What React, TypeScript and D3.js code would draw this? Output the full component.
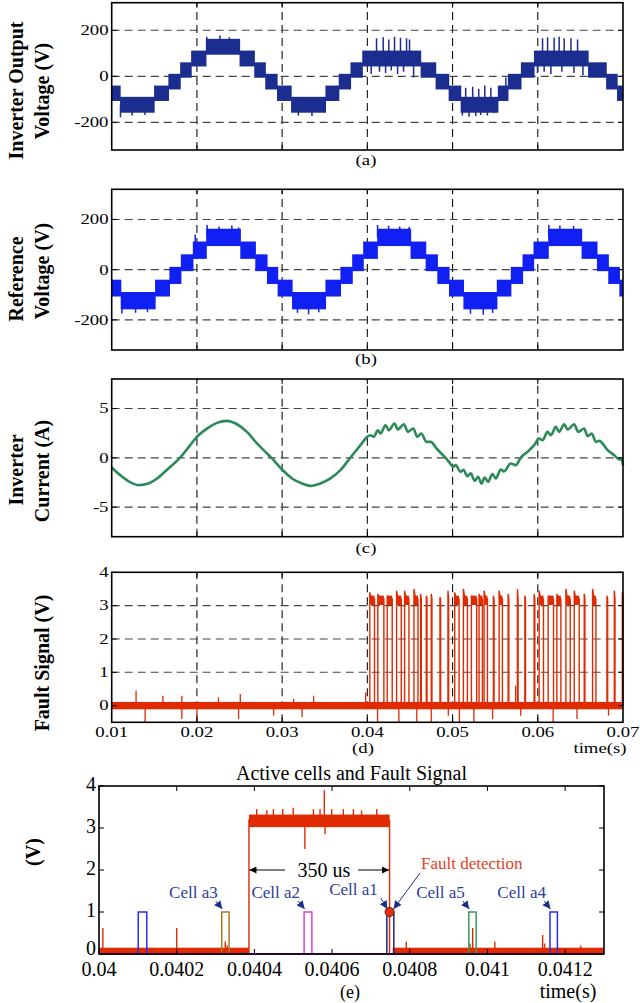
import React from 'react';
import * as d3 from 'd3';

const FONT = '"Liberation Serif","Times New Roman",Times,serif';

// ---------------- DATA ----------------
const T_TICKS = [0.01, 0.02, 0.03, 0.04, 0.05, 0.06, 0.07];
const T_TICK_LABELS = ['0.01', '0.02', '0.03', '0.04', '0.05', '0.06', '0.07'];
const T_GRID = [0.02, 0.03, 0.04, 0.05, 0.06];
const V_TICKS = [-200, 0, 200];
const I_TICKS = [-5, 0, 5];
const F_TICKS = [0, 1, 2, 3, 4];

// staircase level bands (V)
const LEVEL_LOW = [-158, -107, -57, -6, 43, 94];
const LEVEL_HIGH = [-89, -40, 11, 61, 112, 163];

// (a) inverter output voltage: segment start times + level index
const VOUT_T = [0.01, 0.01098, 0.01497, 0.01665, 0.01803, 0.01932, 0.02105, 0.025, 0.02673, 0.02802, 0.0294, 0.03105, 0.03508, 0.03664, 0.03802, 0.0394, 0.04625, 0.04801, 0.04954, 0.05095, 0.05531, 0.05649, 0.05802, 0.05955, 0.0659, 0.06802, 0.0693];
const VOUT_LEVEL = [1, 0, 1, 2, 3, 4, 5, 4, 3, 2, 1, 0, 1, 2, 3, 4, 3, 2, 1, 0, 1, 2, 3, 4, 3, 2, 1];
const VOUT_SPIKE_T = [0.01103, 0.0124, 0.0139, 0.02115, 0.0227, 0.0238, 0.0319, 0.0335,
  0.04045, 0.04108, 0.04143, 0.04186, 0.04214, 0.04252, 0.0428, 0.04319, 0.04355, 0.04389, 0.04425, 0.0446, 0.04495, 0.04543,
  0.05115, 0.05154, 0.05193, 0.05236, 0.05272, 0.05307, 0.0533, 0.05378, 0.05409, 0.05449, 0.05487, 0.05625,
  0.05997, 0.06056, 0.06075, 0.06115, 0.06154, 0.06192, 0.06251, 0.06283, 0.0631, 0.06389, 0.06424, 0.06467, 0.0653];
const VOUT_SPIKE_V = [-178, -170, -168, 172, 178, 170, -170, -172,
  10, 165, 20, 170, 15, 160, 25, 172, 10, 168, 20, 165, 160, -5,
  -170, -50, -175, -45, -172, -55, -168, -40, -170, -50, -160, -5,
  15, 165, 20, 170, 10, 168, 172, 20, 165, 165, 15, 160, 5];

// (b) reference voltage
const VREF_T = [0.01, 0.01106, 0.01509, 0.01677, 0.01811, 0.01952, 0.02109, 0.02509, 0.02685, 0.02822, 0.02947, 0.03116, 0.03508, 0.03684, 0.03822, 0.03951, 0.04116, 0.04507, 0.04684, 0.04821, 0.04958, 0.05127, 0.05519, 0.05683, 0.05821, 0.0595, 0.06122, 0.06514, 0.06694, 0.06827, 0.06957];
const VREF_LEVEL = [1, 0, 1, 2, 3, 4, 5, 4, 3, 2, 1, 0, 1, 2, 3, 4, 5, 4, 3, 2, 1, 0, 1, 2, 3, 4, 5, 4, 3, 2, 1];
const VREF_SPIKE_T = [0.0112, 0.0128, 0.0142, 0.0198, 0.0212, 0.0226, 0.0241, 0.0249, 0.0263, 0.0318, 0.0331, 0.0343, 0.0412, 0.0425, 0.0438, 0.0449, 0.0521, 0.0536, 0.0547, 0.0613, 0.0626, 0.0642, 0.0654];
const VREF_SPIKE_V = [-175, -172, -170, 140, 178, 172, 176, 168, 100, -172, -178, -170, 178, 175, 172, 170, -176, -180, -172, 178, 176, 174, 110];

// (c) inverter current
const CUR_T = [0.01, 0.01098, 0.01195, 0.01313, 0.0143, 0.01548, 0.01665, 0.01803, 0.01921, 0.01999, 0.02117, 0.02235, 0.02352, 0.0247, 0.02587, 0.02705, 0.02822, 0.02881, 0.02999, 0.03116, 0.03234, 0.03332, 0.03449, 0.03567, 0.03684, 0.03802, 0.03919, 0.03998,
  0.04037, 0.04076, 0.04123, 0.04155, 0.04213, 0.04252, 0.04319, 0.04358, 0.04429, 0.04476, 0.04539, 0.04586, 0.04633, 0.04695, 0.04742, 0.04821, 0.04899, 0.04958, 0.05009, 0.05036, 0.05095, 0.05127, 0.05174, 0.05213, 0.0526, 0.05299, 0.05339, 0.05377, 0.05416, 0.05468, 0.05507, 0.05566, 0.05604, 0.05683, 0.05742, 0.05801, 0.0588, 0.05957, 0.06016, 0.06056, 0.06115, 0.06154, 0.06212, 0.06251, 0.0631, 0.0635, 0.06427, 0.06474, 0.06545, 0.06585, 0.06632, 0.06683, 0.06721, 0.0682, 0.06898, 0.06957, 0.06977, 0.07];
const CUR_I = [-0.97, -1.75, -2.36, -2.77, -2.6, -1.99, -1.08, 0.03, 1.29, 2.13, 2.97, 3.55, 3.75, 3.41, 2.63, 1.46, 0.45, -0.06, -1.18, -2.09, -2.6, -2.84, -2.6, -2.09, -1.25, 0.04, 1.29, 2.13,
  2.3, 2.13, 2.8, 2.47, 3.31, 2.8, 3.48, 2.87, 3.41, 2.64, 2.98, 2.13, 2.47, 1.62, 1.62, 0.85, 0.17, -0.41, -0.91, -0.74, -1.42, -1.2, -1.86, -1.58, -2.33, -1.92, -2.6, -1.99, -2.43, -1.65, -2.09, -1.18, -1.38, -0.57, -0.74, 0.04, 0.61, 1.29, 1.96, 1.79, 2.64, 2.3, 3.14, 2.64, 3.41, 2.87, 3.41, 2.64, 2.98, 2.2, 2.47, 1.62, 1.72, 0.78, 0.27, -0.17, -0.06, -0.74];

// (d) fault signal pulses
const PULSE_START = [0.04029, 0.04123, 0.04233, 0.04343, 0.04437, 0.04547, 0.04625, 0.04692, 0.0475, 0.04852, 0.04946, 0.05025, 0.05127, 0.05221, 0.05311, 0.0537, 0.05479, 0.05546, 0.05652, 0.05761, 0.05848, 0.05957, 0.06016, 0.06122, 0.06224, 0.0633, 0.06428, 0.06545, 0.06643, 0.06812, 0.06898, 0.06992];
const PULSE_END = [0.04084, 0.04194, 0.04292, 0.04398, 0.04488, 0.04594, 0.04633, 0.047, 0.04758, 0.0486, 0.04954, 0.05076, 0.05174, 0.05283, 0.0535, 0.05409, 0.05487, 0.05585, 0.0566, 0.05769, 0.05856, 0.05965, 0.06067, 0.06185, 0.06271, 0.06381, 0.06486, 0.06553, 0.06682, 0.0682, 0.06906, 0.07];
const PULSE_PEAK = [3.4, 3.35, 3.3, 3.45, 3.45, 3.5, 3.35, 3.3, 3.35, 3.25, 3.45, 3.4, 3.5, 3.3, 3.35, 3.45, 3.3, 3.45, 3.35, 3.5, 3.3, 3.35, 3.45, 3.3, 3.35, 3.5, 3.45, 3.35, 3.5, 3.3, 3.45, 3.4];
const D_SPIKE_T = [0.01286, 0.01392, 0.016, 0.01823, 0.01823, 0.02, 0.02253, 0.02489, 0.02509, 0.029, 0.03135, 0.03234, 0.0337, 0.0398, 0.0412, 0.0437, 0.0458, 0.0475, 0.0495, 0.0508, 0.0525, 0.0547, 0.0574, 0.058, 0.0618, 0.0646, 0.0683];
const D_SPIKE_V = [0.45, -0.5, 0.3, 0.3, -0.4, -0.5, 0.25, -0.4, 0.35, -0.3, 0.2, -0.35, 0.3, 0.4, -0.5, -0.5, -0.5, -0.5, -0.3, -0.5, -0.5, -0.4, 0.6, -0.3, -0.5, -0.4, -0.3];

// (e) zoomed view
const E_X_TICKS = [0.04, 0.0402, 0.0404, 0.0406, 0.0408, 0.041, 0.0412];
const E_X_LABELS = ['0.04', '0.0402', '0.0404', '0.0406', '0.0408', '0.041', '0.0412'];
const E_FAULT_RISE = 0.040386;
const E_FAULT_FALL = 0.040748;
const E_FAULT_HIGH = [3.02, 3.32];
const E_HIGH_SPIKE_T = [0.040406, 0.040432, 0.040449, 0.040473, 0.0405, 0.04053, 0.040552, 0.040569, 0.04058, 0.040582, 0.040599, 0.040629, 0.040655, 0.040676, 0.040715];
const E_HIGH_SPIKE_V = [3.45, 3.42, 3.45, 3.45, 3.48, 2.5, 3.45, 3.45, 3.9, 2.85, 3.45, 3.45, 3.45, 3.42, 3.45];
const E_BASE_SPIKE_T = [0.04001, 0.0402, 0.040325, 0.04033, 0.040791, 0.040955, 0.040962, 0.041019, 0.041142, 0.041147, 0.04124];
const E_BASE_SPIKE_V = [0.62, 0.62, 0.3, 0.2, 0.3, 0.25, 0.62, 0.3, 0.45, 0.25, 0.2];
const CELL_NAMES = ['', 'Cell a3', 'Cell a2', 'Cell a1', 'Cell a5', 'Cell a4'];
const CELL_START = [0.040101, 0.040316, 0.040528, 0.040741, 0.040952, 0.041161];
const CELL_END = [0.040123, 0.040335, 0.040548, 0.040759, 0.040971, 0.04118];
const CELL_LEVEL = 1;
const DETECT_T = 0.040748;
const DETECT_V = 1.0;

// ---------------- STYLE ----------------
const CELL_COLORS = ['#2a2aff', '#b07a1c', '#e040e0', '#20208a', '#3a9a60', '#2a2aff'];
const RED = '#e02a00';

type S = d3.ScaleLinear<number, number>;

function STxt({ x, y, anchor = 'middle', size = 15, sx = 1.25, children, fill = '#000', weight = 'normal' }: any) {
  return (
    <text transform={`translate(${x},${y}) scale(${sx},1)`} textAnchor={anchor} dominantBaseline="central"
      fontSize={size} fontFamily={FONT} fill={fill} fontWeight={weight}>{children}</text>
  );
}

function YLabel({ x, y, text, size = 20 }: any) {
  return (
    <text transform={`translate(${x},${y}) rotate(-90)`} textAnchor="middle" dominantBaseline="central"
      fontWeight="bold" fontSize={size} fontFamily={FONT}>{text}</text>
  );
}

function Grid({ xs, ys, xg, yg }: { xs: S; ys: S; xg: number[]; yg: number[] }) {
  const [x0, x1] = xs.range();
  const [y0, y1] = ys.range();
  return (
    <g strokeWidth={1.1} fill="none">
      {xg.map((t, i) => <line key={'v' + i} x1={xs(t)} x2={xs(t)} y1={y0} y2={y1} stroke="#111" strokeDasharray="8,5" />)}
      {yg.map((v, i) => <line key={'h' + i} x1={x0} x2={x1} y1={ys(v)} y2={ys(v)} stroke="#444" strokeDasharray="8,5" />)}
    </g>
  );
}

function Box({ xs, ys, xt, yt }: { xs: S; ys: S; xt: number[]; yt: number[] }) {
  const [x0, x1] = xs.range();
  const [y0, y1] = ys.range();
  const L = 5;
  return (
    <g stroke="#000" strokeWidth={1}>
      {xt.map((t, i) => (
        <g key={'x' + i}>
          <line x1={xs(t)} x2={xs(t)} y1={y0} y2={y0 - L} />
          <line x1={xs(t)} x2={xs(t)} y1={y1} y2={y1 + L} />
        </g>
      ))}
      {yt.map((v, i) => (
        <g key={'y' + i}>
          <line x1={x0} x2={x0 + L} y1={ys(v)} y2={ys(v)} />
          <line x1={x1} x2={x1 - L} y1={ys(v)} y2={ys(v)} />
        </g>
      ))}
      <rect x={x0} y={y1} width={x1 - x0} height={y0 - y1} fill="none" strokeWidth={1.6} />
    </g>
  );
}

function Stair({ xs, ys, T, L, end, color, spT, spV, id }: any) {
  const [x0, x1] = xs.range();
  const [y0, y1] = ys.range();
  return (
    <g clipPath={`url(#${id})`}>
      <clipPath id={id}><rect x={x0} y={y1} width={x1 - x0} height={y0 - y1} /></clipPath>
      <g fill={color}>
        {T.map((t: number, i: number) => {
          const t1 = i < T.length - 1 ? T[i + 1] : end;
          const lv = L[i];
          return <rect key={i} x={xs(t)} width={xs(t1) - xs(t) + 0.6} y={ys(LEVEL_HIGH[lv])}
            height={ys(LEVEL_LOW[lv]) - ys(LEVEL_HIGH[lv])} />;
        })}
      </g>
      <g stroke={color} strokeWidth={1.5}>
        {spT.map((t: number, i: number) => {
          const k = Math.max(0, d3.bisectRight(T, t) - 1);
          const lv = L[k];
          const mid = (LEVEL_LOW[lv] + LEVEL_HIGH[lv]) / 2;
          return <line key={i} x1={xs(t)} x2={xs(t)} y1={ys(mid)} y2={ys(spV[i])} />;
        })}
      </g>
    </g>
  );
}

export default function App() {
  const xT = d3.scaleLinear().domain([0.01, 0.07]).range([111.7, 623]);
  const yA = d3.scaleLinear().domain([-320, 320]).range([150, 2.7]);
  const yB = d3.scaleLinear().domain([-320, 320]).range([350, 189.3]);
  const yC = d3.scaleLinear().domain([-8, 8]).range([536.7, 379]);
  const yD = d3.scaleLinear().domain([-0.5, 4]).range([722.3, 572.3]);
  const xE = d3.scaleLinear().domain([0.04, 0.0413]).range([99, 604]);
  const yE = d3.scaleLinear().domain([0, 4]).range([954, 786]);

  const curLine = d3.line<number>().x((_, i) => xT(CUR_T[i])).y((d) => yC(d)).curve(d3.curveMonotoneX);

  const pulsePaths = PULSE_START.map((s, i) => {
    const e = PULSE_END[i];
    const xa = xT(s), xb = Math.min(xT(e), xT(0.07));
    return `M${xa},${yD(0)}V${yD(PULSE_PEAK[i])}L${Math.min(xa + 1.5, xb)},${yD(3.2)}H${xb}V${yD(0)}`;
  });

  const labelFs = 15;

  return (
    <svg width={640} height={1003} style={{ position: 'absolute', left: 0, top: 0, background: '#fff' }} fontFamily={FONT}>
      <defs>
        <marker id="ahB" viewBox="0 0 10 10" refX="10" refY="5" markerWidth="8" markerHeight="8" markerUnits="userSpaceOnUse" orient="auto">
          <path d="M0,0L10,5L0,10z" fill="#1a2f8a" />
        </marker>
        <marker id="ahK" viewBox="0 0 10 10" refX="10" refY="5" markerWidth="8" markerHeight="7" markerUnits="userSpaceOnUse" orient="auto">
          <path d="M0,0L10,5L0,10z" fill="#000" />
        </marker>
      </defs>

      {/* ---------- (a) ---------- */}
      <Grid xs={xT} ys={yA} xg={T_GRID} yg={V_TICKS} />
      <Stair xs={xT} ys={yA} T={VOUT_T} L={VOUT_LEVEL} end={0.07} color="#1b2d8f" spT={VOUT_SPIKE_T} spV={VOUT_SPIKE_V} id="clipA" />
      <Box xs={xT} ys={yA} xt={T_GRID} yt={V_TICKS} />
      {V_TICKS.map((v, i) => <STxt key={i} x={108.5} y={yA(v)} anchor="end" size={labelFs}>{String(v)}</STxt>)}
      <YLabel x={16} y={90.5} text="Inverter Output" />
      <YLabel x={41.7} y={91} text="Voltage (V)" />
      <STxt x={366} y={160} size={labelFs}>(a)</STxt>

      {/* ---------- (b) ---------- */}
      <Grid xs={xT} ys={yB} xg={T_GRID} yg={V_TICKS} />
      <Stair xs={xT} ys={yB} T={VREF_T} L={VREF_LEVEL} end={0.07} color="#1020f2" spT={VREF_SPIKE_T} spV={VREF_SPIKE_V} id="clipB" />
      <Box xs={xT} ys={yB} xt={T_GRID} yt={V_TICKS} />
      {V_TICKS.map((v, i) => <STxt key={i} x={108.5} y={yB(v)} anchor="end" size={labelFs}>{String(v)}</STxt>)}
      <YLabel x={16} y={279} text="Reference" />
      <YLabel x={41.7} y={271} text="Voltage (V)" />
      <STxt x={366} y={359} size={labelFs}>(b)</STxt>

      {/* ---------- (c) ---------- */}
      <Grid xs={xT} ys={yC} xg={T_GRID} yg={I_TICKS} />
      <path d={curLine(CUR_I) || ''} fill="none" stroke="#2b8a57" strokeWidth={2.6} strokeLinejoin="round" />
      <Box xs={xT} ys={yC} xt={T_GRID} yt={I_TICKS} />
      {I_TICKS.map((v, i) => <STxt key={i} x={108.5} y={yC(v)} anchor="end" size={labelFs}>{String(v)}</STxt>)}
      <YLabel x={16} y={470} text="Inverter" />
      <YLabel x={41.7} y={471} text="Current (A)" />
      <STxt x={366} y={548} size={labelFs}>(c)</STxt>

      {/* ---------- (d) ---------- */}
      <Grid xs={xT} ys={yD} xg={T_GRID} yg={[0, 1, 2, 3]} />
      <g>
        <rect x={xT(0.01)} width={xT(0.07) - xT(0.01)} y={yD(0.11)} height={yD(-0.11) - yD(0.11)} fill={RED} />
        <g stroke={RED} strokeWidth={1.3}>
          {D_SPIKE_T.map((t, i) => <line key={i} x1={xT(t)} x2={xT(t)} y1={yD(0)} y2={yD(Math.max(-0.5, D_SPIKE_V[i]))} />)}
        </g>
        <g fill="none" stroke={RED} strokeWidth={1.4}>
          {pulsePaths.map((p, i) => <path key={i} d={p} />)}
        </g>
        <g fill={RED}>
          {PULSE_START.map((s, i) => {
            const e = Math.min(PULSE_END[i], 0.07);
            if (e - s < 0.0002) return null;
            return <rect key={i} x={xT(s)} width={xT(e) - xT(s)} y={yD(3.3)} height={yD(3.02) - yD(3.3)} />;
          })}
        </g>
      </g>
      <Box xs={xT} ys={yD} xt={T_GRID} yt={F_TICKS} />
      {F_TICKS.map((v, i) => <STxt key={i} x={108.5} y={yD(v)} anchor="end" size={labelFs}>{String(v)}</STxt>)}
      {T_TICKS.map((t, i) => <STxt key={i} x={xT(t)} y={732} size={labelFs}>{T_TICK_LABELS[i]}</STxt>)}
      <YLabel x={41.7} y={663} text="Fault Signal (V)" />
      <STxt x={363} y={748} size={labelFs}>(d)</STxt>
      <STxt x={600} y={748} size={labelFs}>time(s)</STxt>

      {/* ---------- (e) ---------- */}
      <text x={351.5} y={773} textAnchor="middle" dominantBaseline="central" fontSize={20} fontFamily={FONT}>Active cells and Fault Signal</text>
      <g>
        {/* fault signal */}
        <g fill={RED}>
          <rect x={xE(0.04)} width={xE(E_FAULT_RISE) - xE(0.04)} y={yE(0.15)} height={yE(0) - yE(0.15)} />
          <rect x={xE(E_FAULT_FALL + 0.000008)} width={xE(0.0413) - xE(E_FAULT_FALL + 0.000008)} y={yE(0.15)} height={yE(0) - yE(0.15)} />
          <rect x={xE(E_FAULT_RISE)} width={xE(E_FAULT_FALL) - xE(E_FAULT_RISE)} y={yE(E_FAULT_HIGH[1])} height={yE(E_FAULT_HIGH[0]) - yE(E_FAULT_HIGH[1])} />
        </g>
        <g stroke={RED} strokeWidth={1.4}>
          <line x1={xE(E_FAULT_RISE)} x2={xE(E_FAULT_RISE)} y1={yE(0)} y2={yE(3.2)} />
          <line x1={xE(E_FAULT_FALL)} x2={xE(E_FAULT_FALL)} y1={yE(0)} y2={yE(3.2)} />
          {E_HIGH_SPIKE_T.map((t, i) => <line key={'h' + i} x1={xE(t)} x2={xE(t)} y1={yE(3.17)} y2={yE(E_HIGH_SPIKE_V[i])} />)}
          {E_BASE_SPIKE_T.map((t, i) => <line key={'b' + i} x1={xE(t)} x2={xE(t)} y1={yE(0)} y2={yE(E_BASE_SPIKE_V[i])} />)}
        </g>
        {/* cell signals */}
        <line x1={xE(0.04)} x2={xE(0.0413)} y1={yE(0)} y2={yE(0)} stroke="#b030b0" strokeWidth={2} />
        {CELL_START.map((s, i) => (
          <path key={i} d={`M${xE(s)},${yE(0)}V${yE(CELL_LEVEL)}H${xE(CELL_END[i])}V${yE(0)}`} fill="none" stroke={CELL_COLORS[i]} strokeWidth={1.5} />
        ))}
        {/* annotations */}
        {CELL_NAMES.map((n, i) => {
          if (!n) return null;
          const cx = xE(CELL_START[i]);
          const isA1 = n === 'Cell a1';
          return (
            <g key={'a' + i}>
              <text x={cx - (isA1 ? 9 : 4)} y={isA1 ? 889 : 892} textAnchor="end" dominantBaseline="central" fontSize={17} fontFamily={FONT} fill="#2d3d9a">{n}</text>
              <line x1={cx - 6} y1={isA1 ? 898 : 901} x2={cx + 0.5} y2={909} stroke="#1a2f8a" strokeWidth={1} markerEnd="url(#ahB)" />
            </g>
          );
        })}
        <text x={421} y={863} dominantBaseline="central" fontSize={17} fontFamily={FONT} fill="#e8401c">Fault detection</text>
        <line x1={420} y1={873} x2={xE(DETECT_T) + 4} y2={yE(DETECT_V) - 3} stroke="#1a2f8a" strokeWidth={1} markerEnd="url(#ahB)" />
        <circle cx={xE(DETECT_T)} cy={yE(DETECT_V)} r={4.5} fill="#e03010" stroke="#7a1000" strokeWidth={1} />
        {/* 350 us */}
        <text x={297.5} y={870} dominantBaseline="central" fontSize={20} fontFamily={FONT}>350 us</text>
        <line x1={285} y1={870} x2={xE(E_FAULT_RISE) + 0.5} y2={870} stroke="#000" strokeWidth={1} markerEnd="url(#ahK)" />
        <line x1={358} y1={870} x2={xE(E_FAULT_FALL) - 0.5} y2={870} stroke="#000" strokeWidth={1} markerEnd="url(#ahK)" />
      </g>
      <Box xs={xE} ys={yE} xt={E_X_TICKS} yt={F_TICKS} />
      {F_TICKS.map((v, i) => <text key={i} x={96} y={yE(v) - (v === 0 ? 6 : 2)} textAnchor="end" dominantBaseline="central" fontSize={20} fontFamily={FONT}>{String(v)}</text>)}
      {E_X_TICKS.map((t, i) => <text key={i} x={xE(t)} y={969} textAnchor="middle" dominantBaseline="central" fontSize={20} fontFamily={FONT}>{E_X_LABELS[i]}</text>)}
      <YLabel x={33} y={852} text="(V)" />
      <text x={350} y={992} textAnchor="middle" dominantBaseline="central" fontSize={18} fontFamily={FONT}>(e)</text>
      <text x={568} y={991} textAnchor="middle" dominantBaseline="central" fontSize={20} fontFamily={FONT}>time(s)</text>
    </svg>
  );
}
